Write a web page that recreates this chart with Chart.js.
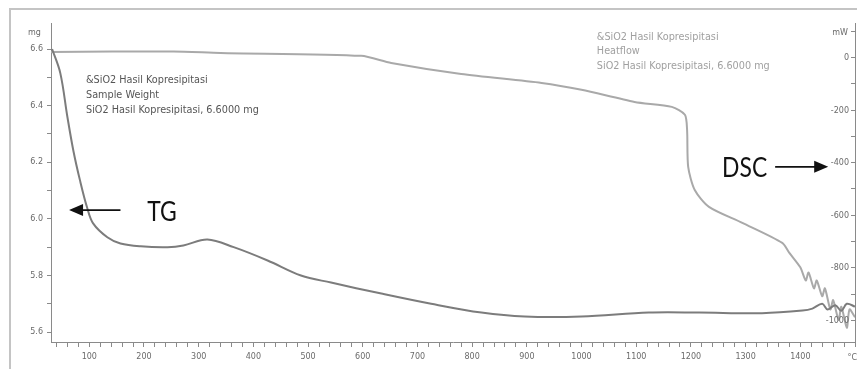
<!DOCTYPE html>
<html>
<head>
<meta charset="utf-8">
<script src="https://cdn.jsdelivr.net/npm/chart.js@4"></script>
<style>
  html, body { margin: 0; padding: 0; background: #fff; }
  #wrap { position: relative; width: 857px; height: 369px; overflow: hidden; }
  #frame { position: absolute; left: 9px; top: 8px; width: 900px; height: 400px;
           border-left: 2px solid #c4c4c4; border-top: 2px solid #c4c4c4; }
  canvas { position: absolute; left: 0; top: 0; }
</style>
</head>
<body>
<div id="wrap">
  <div id="frame"></div>
  <canvas id="thermoChart" width="857" height="369"></canvas>
</div>
<script>
// TG curve (mass, mg)
const tgTemp = [32, 47, 60, 71, 83, 96, 107, 133, 157, 194, 243, 272, 316, 364, 426, 487, 542, 634, 725, 817, 896, 1000, 1123, 1215, 1330, 1404, 1422, 1440, 1450, 1464, 1475, 1485, 1500];
const tgMass = [6.60, 6.515, 6.36, 6.24, 6.136, 6.04, 5.984, 5.935, 5.913, 5.903, 5.90, 5.906, 5.927, 5.90, 5.853, 5.80, 5.775, 5.736, 5.70, 5.669, 5.655, 5.655, 5.669, 5.669, 5.667, 5.676, 5.683, 5.70, 5.68, 5.695, 5.675, 5.70, 5.69];

// DSC curve (heat flow, mW)
const dscTemp = [30, 254, 340, 597, 652, 780, 927, 1000, 1097, 1165, 1189, 1193, 1195, 1207, 1233, 1294, 1367, 1380, 1400, 1410, 1415, 1425, 1430, 1440, 1445, 1455, 1460, 1470, 1475, 1485, 1490, 1500];
const dscFlow = [19, 21, 15, 4, -23, -65, -99, -125, -171, -190, -220, -278, -418, -506, -570, -631, -707, -745, -800, -850, -820, -880, -850, -910, -880, -960, -925, -1000, -950, -1030, -960, -990];

// axis ranges
const tempRange = [30, 1500];
const massRange = [5.565, 6.692];
const flowRange = [-1084, 129];

const leftNote = ['&SiO2 Hasil Kopresipitasi', 'Sample Weight', 'SiO2 Hasil Kopresipitasi, 6.6000 mg'];
const rightNote = ['&SiO2 Hasil Kopresipitasi', 'Heatflow', 'SiO2 Hasil Kopresipitasi, 6.6000 mg'];

const tickFont = { family: 'DejaVu Sans', size: 8 };
const tickColor = '#6a6a6a';
const axisColor = '#8a8a8a';

function arrow(ctx, x1, y, x2) {
  const dir = x2 > x1 ? 1 : -1;
  ctx.save();
  ctx.strokeStyle = '#111';
  ctx.fillStyle = '#111';
  ctx.lineWidth = 1.6;
  ctx.beginPath();
  ctx.moveTo(x1, y);
  ctx.lineTo(x2 - dir * 12, y);
  ctx.stroke();
  ctx.beginPath();
  ctx.moveTo(x2, y);
  ctx.lineTo(x2 - dir * 14, y - 6);
  ctx.lineTo(x2 - dir * 14, y + 6);
  ctx.closePath();
  ctx.fill();
  ctx.restore();
}

function bigLabel(ctx, text, px, py) {
  ctx.save();
  ctx.translate(px, py);
  ctx.scale(0.88, 1);
  ctx.fillText(text, 0, 0);
  ctx.restore();
}

const notesPlugin = {
  id: 'notes',
  afterDraw(chart) {
    const ctx = chart.ctx;
    const x = chart.scales.x, y = chart.scales.y, y2 = chart.scales.y2;
    ctx.save();
    // right axis: inward ticks with labels left of them
    ctx.strokeStyle = axisColor;
    ctx.lineWidth = 1;
    ctx.font = '8px "DejaVu Sans"';
    ctx.fillStyle = tickColor;
    ctx.textBaseline = 'middle';
    ctx.textAlign = 'right';
    y2.ticks.forEach(t => {
      const py = Math.round(y2.getPixelForValue(t.value)) + 0.5;
      ctx.beginPath();
      ctx.moveTo(y2.left - 4, py);
      ctx.lineTo(y2.left, py);
      ctx.stroke();
      if (t.value % 200 === 0) ctx.fillText(String(t.value), y2.left - 6, py);
    });
    // unit labels
    ctx.textAlign = 'left';
    ctx.fillText('mg', 28, 33);
    ctx.textAlign = 'right';
    ctx.fillText('mW', y2.left - 7, 33);
    ctx.fillText('\u00b0C', 857, x.top + 16);
    // method notes
    ctx.font = '9.7px "DejaVu Sans"';
    ctx.textAlign = 'left';
    ctx.fillStyle = '#555';
    leftNote.forEach((s, i) => ctx.fillText(s, x.getPixelForValue(94), 80 + i * 15));
    ctx.fillStyle = '#a0a0a0';
    rightNote.forEach((s, i) => ctx.fillText(s, x.getPixelForValue(1028), 37 + i * 14.5));
    // TG / DSC labels
    ctx.fillStyle = '#111';
    ctx.font = '26px Lato';
    ctx.textBaseline = 'alphabetic';
    bigLabel(ctx, 'TG', x.getPixelForValue(206), y.getPixelForValue(5.992));
    bigLabel(ctx, 'DSC', x.getPixelForValue(1257), y2.getPixelForValue(-456));
    arrow(ctx, x.getPixelForValue(157), y.getPixelForValue(6.031), x.getPixelForValue(63));
    arrow(ctx, x.getPixelForValue(1354), y2.getPixelForValue(-418), x.getPixelForValue(1451));
    ctx.restore();
  }
};

const ChartT = document.getElementById('thermoChart');
const thermoChart = new Chart(ChartT, {
  type: 'line',
  data: {
    datasets: [{
      label: 'TG',
      data: tgTemp.map((t, i) => ({ x: t, y: tgMass[i] })),
      yAxisID: 'y',
      borderColor: '#7c7c7c',
      borderWidth: 2,
      pointRadius: 0,
      tension: 0.35
    },
    {
      label: 'DSC',
      data: dscTemp.map((t, i) => ({ x: t, y: dscFlow[i] })),
      yAxisID: 'y2',
      borderColor: '#a9a9a9',
      borderWidth: 2,
      pointRadius: 0,
      tension: 0.25
    }]
  },
  options: {
    responsive: false,
    animation: false,
    layout: { padding: { top: 23, right: 2, left: 0, bottom: 0 } },
    plugins: {
      legend: { display: false },
      tooltip: { enabled: false }
    },
    scales: {
      x: {
        type: 'linear',
        position: 'bottom',
        min: tempRange[0],
        max: tempRange[1],
        afterFit: s => { s.height = 27; s.paddingRight = 0; },
        border: { color: axisColor, width: 1 },
        grid: { drawOnChartArea: false, tickLength: 5, color: axisColor },
        ticks: {
          stepSize: 20,
          includeBounds: false,
          autoSkip: false,
          maxRotation: 0,
          padding: 5,
          font: tickFont,
          color: tickColor,
          callback: v => (v % 100 === 0 && v < 1500 ? v : '')
        }
      },
      y: {
        position: 'left',
        min: massRange[0],
        max: massRange[1],
        afterFit: s => { s.width = 51; },
        border: { color: axisColor, width: 1 },
        grid: { drawOnChartArea: false, tickLength: 4, color: axisColor },
        ticks: {
          stepSize: 0.1,
          includeBounds: false,
          autoSkip: false,
          padding: 4,
          font: tickFont,
          color: tickColor,
          callback: v => (Math.round(v * 10) % 2 === 0 ? v.toFixed(1) : '')
        }
      },
      y2: {
        position: 'right',
        min: flowRange[0],
        max: flowRange[1],
        afterFit: s => { s.width = 0; },
        border: { color: axisColor, width: 1 },
        grid: { display: false },
        ticks: {
          display: false,
          stepSize: 100,
          includeBounds: false,
          autoSkip: false
        }
      }
    }
  },
  plugins: [notesPlugin]
});
</script>
</body>
</html>
